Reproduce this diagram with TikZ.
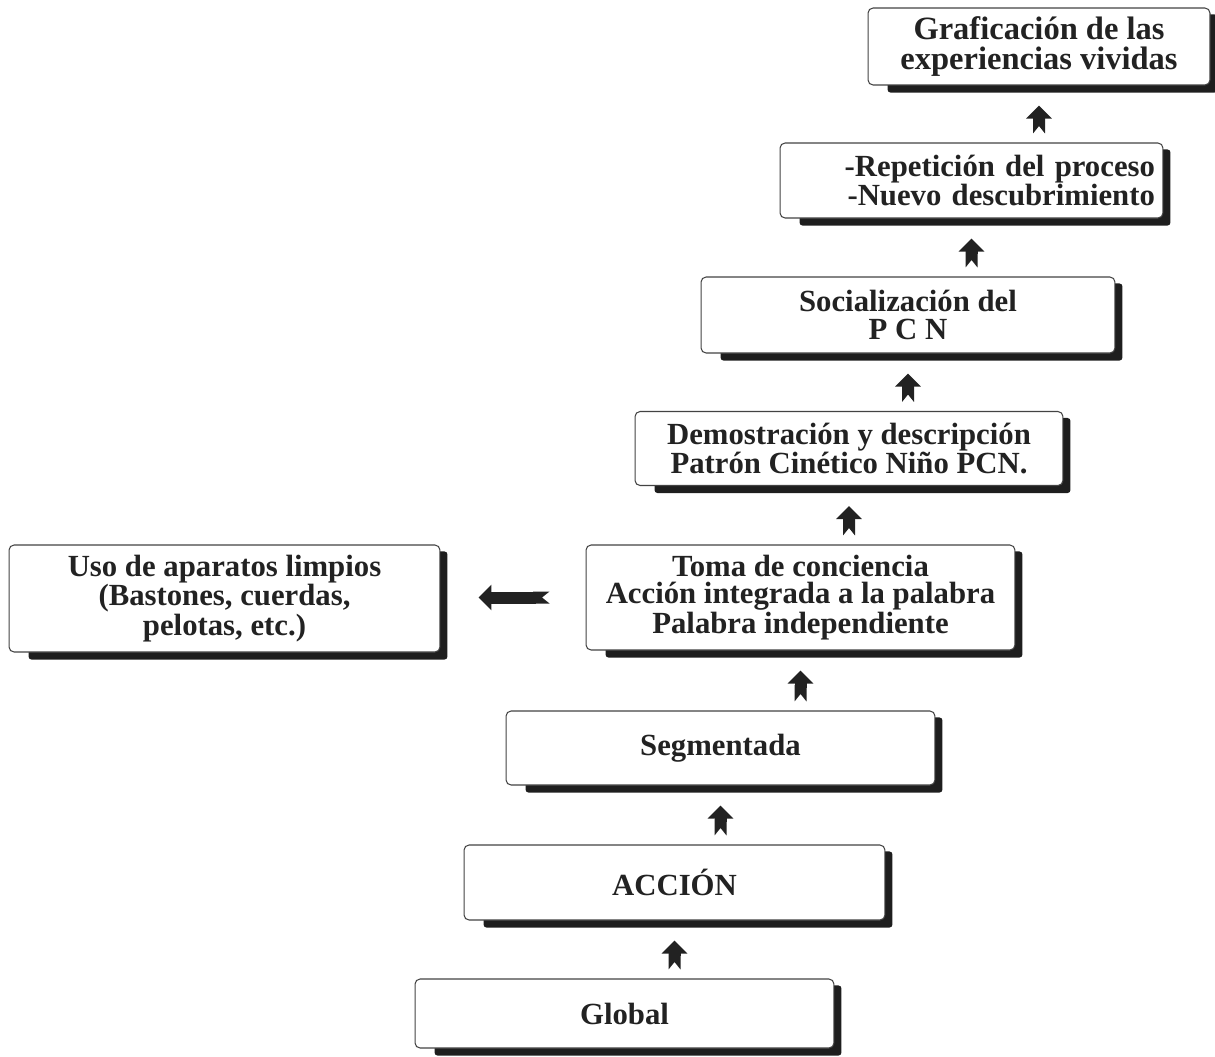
\documentclass[tikz,border=0pt]{standalone}
\usepackage{fontspec}
\setmainfont{Liberation Serif}
\usetikzlibrary{arrows.meta,backgrounds,calc}
\definecolor{ink}{HTML}{222222}
\definecolor{shadowcol}{HTML}{1E1E1E}
\begin{document}
\begin{tikzpicture}[x=0.02cm,y=-0.02cm,
  box/.style={draw=ink!85, line width=0.6pt, rounded corners=0.1cm, fill=white, align=center,
    font=\fontsize{17.5}{15.8}\selectfont\bfseries, text=ink, inner sep=0pt},
  flow/.style={ink, line width=0.24cm, {Triangle Cap[reversed, length=0.15cm]}-{Triangle[width=0.5cm,length=0.26cm]},
    shorten >=0.4cm, shorten <=0.18cm}]
\useasboundingbox (0,0) rectangle (1215,1056);
\node[box, minimum width=6.84cm, minimum height=1.54cm, font=\fontsize{18.5}{16.8}\selectfont\bfseries] (graf) at (1039,46.5) {Graficación de las\\experiencias vividas};
\node[box, minimum width=7.66cm, minimum height=1.5cm, text width=7.34cm, align=right] (rep) at (971.5,180.5) {-Repetición del proceso\\-Nuevo descubrimiento};
\node[box, minimum width=8.28cm, minimum height=1.52cm] (soc) at (908,315) {Socialización del\\P C N};
\node[box, minimum width=8.56cm, minimum height=1.48cm] (dem) at (849,448.5) {Demostración y descripción\\Patrón Cinético Niño PCN.};
\node[box, minimum width=8.58cm, minimum height=2.1cm] (toma) at (800.5,597.5) {Toma de conciencia\\Acción integrada a la palabra\\Palabra independiente};
\node[box, minimum width=8.62cm, minimum height=2.14cm] (uso) at (224.5,598.5) {Uso de aparatos limpios\\(Bastones, cuerdas,\\pelotas, etc.)};
\node[box, minimum width=8.58cm, minimum height=1.48cm] (seg) at (720.5,748) {Segmentada};
\node[box, minimum width=8.42cm, minimum height=1.5cm] (acc) at (674.5,882.5) {ACCIÓN};
\node[box, minimum width=8.38cm, minimum height=1.38cm] (glob) at (624.5,1013.5) {Global};
\begin{scope}[on background layer]
\foreach \n in {graf,rep,soc,dem,toma,uso,seg,acc,glob}
  \fill[shadowcol, rounded corners=0.06cm] ([xshift=0.4cm,yshift=-0.14cm]\n.north west) rectangle ([xshift=0.14cm,yshift=-0.14cm]\n.south east);
\end{scope}
\draw[flow] (glob.north -| acc.south) -- (acc.south);
\draw[flow] (acc.north -| seg.south) -- (seg.south);
\draw[flow] (seg.north -| toma.south) -- (toma.south);
\draw[flow] (toma.north -| dem.south) -- (dem.south);
\draw[flow] (dem.north -| soc.south) -- (soc.south);
\draw[flow] (soc.north -| rep.south) -- (rep.south);
\draw[flow] (rep.north -| graf.south) -- (graf.south);
\draw[flow, shorten <=0.72cm, shorten >=0.76cm] (toma.west) -- (toma.west -| uso.east);
\end{tikzpicture}
\end{document}
